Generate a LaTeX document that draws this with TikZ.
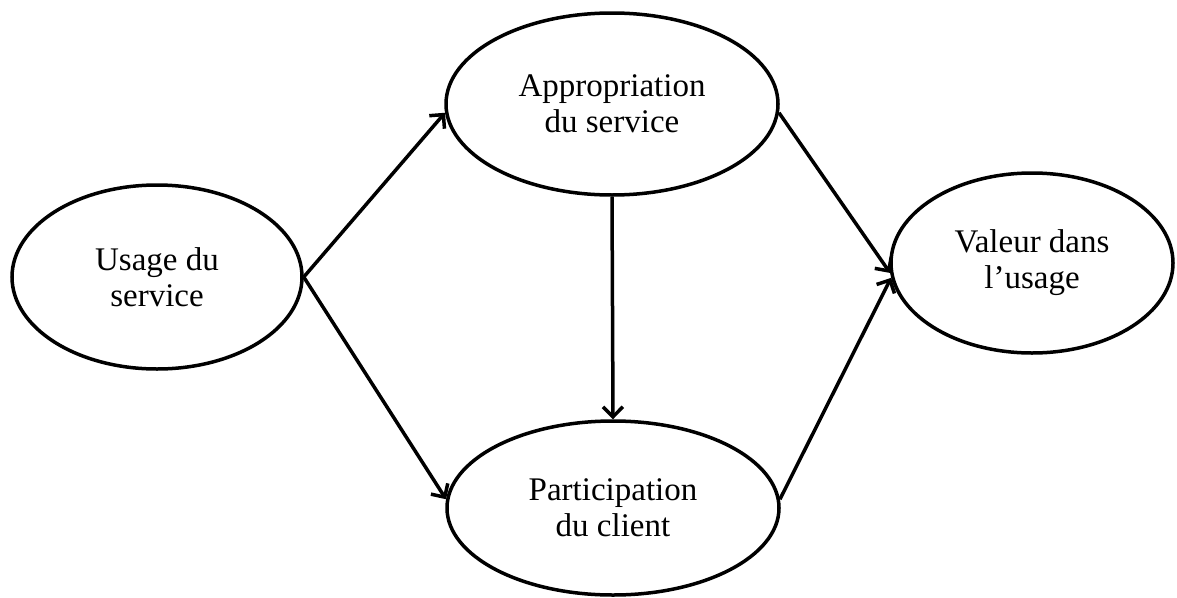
\documentclass[tikz,border=0pt]{standalone}
\usepackage{fontspec}
\setmainfont{Liberation Serif}
\usetikzlibrary{shapes.geometric,arrows.meta}
\begin{document}
\begin{tikzpicture}[x=1pt,y=-1pt,
  oval/.style={ellipse,draw=black,line width=3.5pt,inner sep=0pt,align=center,
    font=\fontsize{33}{36}\selectfont},
  link/.style={line width=3.5pt,-{Straight Barb[length=10pt,width=20pt,line width=3.5pt]}}]
\useasboundingbox (0,0) rectangle (1177,597);
\node[oval,minimum width=290pt,minimum height=184pt] (u) at (157,277) {Usage du\\service};
\node[oval,minimum width=332pt,minimum height=182pt] (a) at (612,104) {Appropriation\\du service};
\node[oval,minimum width=332pt,minimum height=174pt] (p) at (613,508) {Participation\\du client};
\node[oval,minimum width=282pt,minimum height=180pt] (v) at (1032,263) {Valeur dans\\l'usage};
\draw[link] (u.east) -- (a.183);
\draw[link] (u.east) -- (p.177);
\draw[link] (a.south) -- (p.north);
\draw[link] (a.357) -- (v.184);
\draw[link] (p.3) -- (v.186);
\end{tikzpicture}
\end{document}
